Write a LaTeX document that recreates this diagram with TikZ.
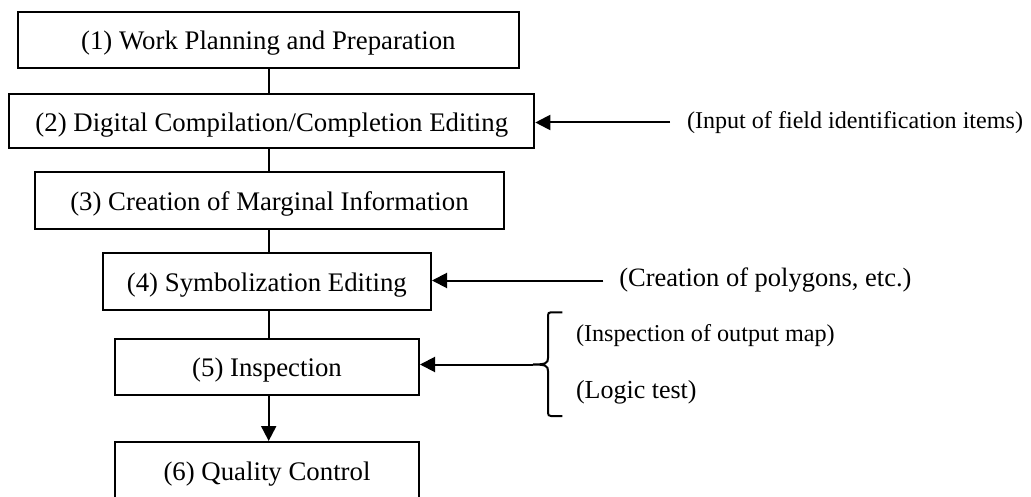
\documentclass[tikz,border=0pt]{standalone}
\usepackage{fontspec}
\setmainfont{Liberation Serif}
\usetikzlibrary{arrows.meta}
\begin{document}
\begin{tikzpicture}[x=1pt,y=-1pt,
  line width=2pt,
  stagebox/.style={draw, rectangle, inner sep=0pt,
    font=\fontsize{26.8pt}{30pt}\selectfont,
    text height=24.5pt, text depth=5pt},
  note/.style={anchor=west, inner sep=0pt},
  feed/.style={-{Triangle[length=15pt,width=15pt]}},
]
\useasboundingbox (0,0) rectangle (1031,497);

% main sequence of stages
\node[stagebox, minimum width=501.3pt, minimum height=56.6pt] (s1) at (268.35,40)
  {(1) Work Planning and Preparation};
\node[stagebox, minimum width=525pt, minimum height=54pt] (s2) at (271.8,121.3)
  {(2) Digital Compilation/Completion Editing};
\node[stagebox, minimum width=469pt, minimum height=56.7pt] (s3) at (269.5,200.65)
  {(3) Creation of Marginal Information};
\node[stagebox, minimum width=328.3pt, minimum height=56.7pt] (s4) at (266.85,281.65)
  {(4) Symbolization Editing};
\node[stagebox, minimum width=304pt, minimum height=56.6pt] (s5) at (267,367)
  {(5) Inspection};
\node[stagebox, minimum width=304pt, minimum height=56.6pt] (s6) at (267,470.3)
  {(6) Quality Control};

% vertical spine linking the stages
\coordinate (spine) at (268.7,0);
\draw (s1.south -| spine) -- (s2.north -| spine);
\draw (s2.south -| spine) -- (s3.north -| spine);
\draw (s3.south -| spine) -- (s4.north -| spine);
\draw (s4.south -| spine) -- (s5.north -| spine);
\draw[feed] (s5.south -| spine) -- (s6.north -| spine);

% side inputs
\node[note, font=\fontsize{24.1pt}{28pt}\selectfont] (t2) at (686,122.5)
  {(Input of field identification items)};
\draw[feed] ([xshift=-16pt]t2.west) -- (t2.west -| s2.east);

\node[note, font=\fontsize{26.5pt}{30pt}\selectfont] (t4) at (618.3,280.5)
  {(Creation of polygons, etc.)};
\draw[feed] ([xshift=-15pt]t4.west) -- (t4.west -| s4.east);

% inspection items grouped by a brace
\node[note, font=\fontsize{24.2pt}{28pt}\selectfont] (t5a) at (575,336)
  {(Inspection of output map)};
\node[note, font=\fontsize{26pt}{30pt}\selectfont] (t5b) at (575,392.5)
  {(Logic test)};
\coordinate (tip) at (533,364.5);
\draw (562.3,312.3) -- (551,312.3) .. controls (549,312.3) and (548,313.3) .. (548,315.3)
  -- (548,358) .. controls (548,363) and (546,364.5) .. (tip)
  .. controls (546,364.5) and (548,366) .. (548,371)
  -- (548,413) .. controls (548,415) and (549,416) .. (551,416) -- (562.3,416);
\draw[feed] (tip) -- (tip -| s5.east);
\end{tikzpicture}
\end{document}
